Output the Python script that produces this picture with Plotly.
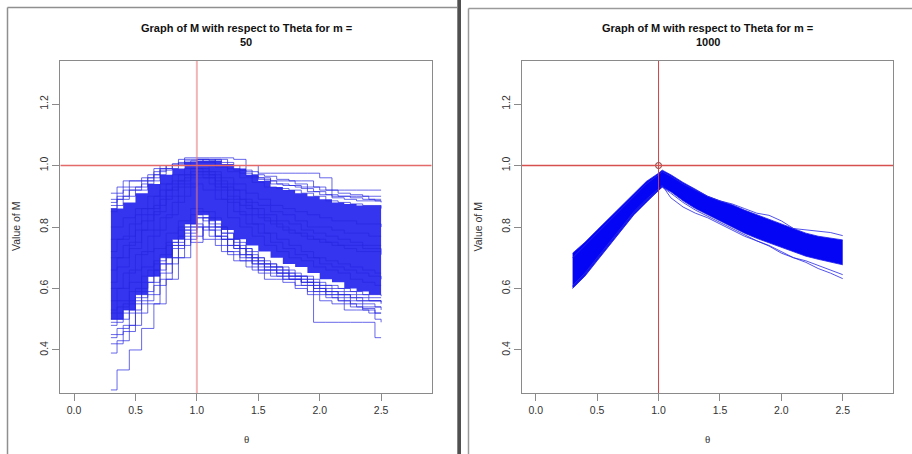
import plotly.graph_objects as go

# ---------------- data ----------------
TITLE_LINE1 = "Graph of M with respect to Theta for m ="
M_LEFT = "50"
M_RIGHT = "1000"
X_TICKS = [0.0, 0.5, 1.0, 1.5, 2.0, 2.5]
X_TICK_TEXT = ["0.0", "0.5", "1.0", "1.5", "2.0", "2.5"]
Y_TICKS = [0.4, 0.6, 0.8, 1.0, 1.2]
Y_TICK_TEXT = ["0.4", "0.6", "0.8", "1.0", "1.2"]
X_LIM = [0.0, 2.8]
Y_LIM = [0.3, 1.3]
REF_THETA = 1.0
REF_M = 1.0

# left panel (m = 50): step paths on two offset theta grids
THETA_A = [0.3, 0.4, 0.5, 0.6, 0.7, 0.8, 0.9, 1.0, 1.1, 1.2, 1.3, 1.4, 1.5,
           1.6, 1.7, 1.8, 1.9, 2.0, 2.1, 2.2, 2.3, 2.4, 2.5]
THETA_B = [0.30, 0.35, 0.45, 0.55, 0.65, 0.75, 0.85, 0.95, 1.05, 1.15, 1.25,
           1.35, 1.45, 1.55, 1.65, 1.75, 1.85, 1.95, 2.05, 2.15, 2.25, 2.35,
           2.45, 2.50]

inner_hi_50 = [0.86, 0.88, 0.91, 0.94, 0.97, 0.99, 1.01, 1.015, 1.015, 1.005, 0.99, 0.97,
               0.95, 0.93, 0.92, 0.91, 0.90, 0.89, 0.88, 0.875, 0.87, 0.87, 0.87]
inner_lo_50 = [0.50, 0.53, 0.58, 0.64, 0.70, 0.76, 0.81, 0.84, 0.82, 0.79, 0.76, 0.74,
               0.72, 0.70, 0.68, 0.67, 0.65, 0.63, 0.62, 0.60, 0.59, 0.58, 0.575]

runs_a_50 = [
    [0.91, 0.95, 0.95, 0.97, 1.00, 1.005, 1.025, 1.025, 1.025, 1.025, 1.02, 1.00, 0.975,
     0.975, 0.975, 0.975, 0.975, 0.96, 0.92, 0.92, 0.92, 0.92, 0.92],
    [0.87, 0.90, 0.92, 0.95, 0.985, 1.00, 1.01, 1.02, 1.015, 1.00, 0.985, 0.965, 0.955,
     0.94, 0.935, 0.93, 0.915, 0.905, 0.895, 0.89, 0.885, 0.885, 0.88],
    [0.89, 0.92, 0.93, 0.96, 0.99, 1.005, 1.015, 1.02, 1.02, 1.01, 1.00, 0.98, 0.96,
     0.95, 0.95, 0.94, 0.93, 0.92, 0.90, 0.90, 0.90, 0.89, 0.89],
    [0.42, 0.46, 0.52, 0.58, 0.63, 0.70, 0.76, 0.80, 0.77, 0.72, 0.69, 0.67, 0.65,
     0.64, 0.62, 0.60, 0.58, 0.56, 0.55, 0.53, 0.53, 0.52, 0.52],
    [0.45, 0.48, 0.55, 0.55, 0.65, 0.73, 0.79, 0.83, 0.80, 0.76, 0.73, 0.69, 0.66,
     0.66, 0.63, 0.61, 0.59, 0.58, 0.57, 0.55, 0.54, 0.54, 0.53],
    [0.50, 0.52, 0.58, 0.64, 0.71, 0.76, 0.80, 0.84, 0.83, 0.78, 0.75, 0.72, 0.68,
     0.67, 0.65, 0.64, 0.62, 0.60, 0.59, 0.58, 0.57, 0.56, 0.56],
    [0.52, 0.55, 0.60, 0.66, 0.70, 0.75, 0.81, 0.85, 0.81, 0.78, 0.74, 0.71, 0.69,
     0.67, 0.66, 0.64, 0.63, 0.61, 0.60, 0.59, 0.58, 0.57, 0.57],
    [0.49, 0.53, 0.57, 0.62, 0.68, 0.74, 0.78, 0.83, 0.79, 0.76, 0.73, 0.70, 0.67,
     0.65, 0.64, 0.63, 0.61, 0.59, 0.58, 0.57, 0.56, 0.56, 0.55],
    [0.80, 0.83, 0.86, 0.90, 0.94, 0.97, 0.99, 1.00, 0.98, 0.96, 0.94, 0.91, 0.89,
     0.87, 0.86, 0.85, 0.84, 0.83, 0.82, 0.82, 0.81, 0.81, 0.80],
    [0.70, 0.74, 0.79, 0.84, 0.89, 0.93, 0.96, 0.98, 0.96, 0.93, 0.89, 0.86, 0.83,
     0.81, 0.79, 0.78, 0.76, 0.75, 0.74, 0.73, 0.72, 0.72, 0.71],
    [0.60, 0.65, 0.71, 0.77, 0.83, 0.88, 0.93, 0.96, 0.94, 0.89, 0.85, 0.81, 0.78,
     0.75, 0.73, 0.71, 0.70, 0.68, 0.67, 0.66, 0.65, 0.64, 0.63],
    [0.76, 0.77, 0.84, 0.86, 0.92, 0.95, 0.97, 0.99, 0.97, 0.94, 0.92, 0.88, 0.87,
     0.85, 0.84, 0.82, 0.80, 0.80, 0.79, 0.78, 0.78, 0.77, 0.77],
]
runs_b_50 = [
    [0.88, 0.93, 0.95, 0.96, 0.99, 1.00, 1.02, 1.02, 1.015, 1.02, 1.00, 0.985, 0.97,
     0.965, 0.955, 0.95, 0.95, 0.93, 0.92, 0.91, 0.905, 0.90, 0.90, 0.90],
    [0.85, 0.89, 0.93, 0.94, 0.97, 0.99, 1.00, 1.01, 1.01, 0.995, 0.98, 0.96, 0.945,
     0.93, 0.925, 0.92, 0.91, 0.90, 0.885, 0.88, 0.875, 0.87, 0.87, 0.86],
    [0.86, 0.90, 0.92, 0.95, 0.98, 1.00, 1.01, 1.015, 1.02, 1.00, 0.99, 0.975, 0.96,
     0.95, 0.94, 0.935, 0.925, 0.915, 0.905, 0.90, 0.895, 0.89, 0.885, 0.885],
    [0.27, 0.335, 0.40, 0.47, 0.55, 0.63, 0.70, 0.77, 0.80, 0.76, 0.72, 0.70, 0.66,
     0.63, 0.63, 0.63, 0.63, 0.49, 0.49, 0.49, 0.49, 0.49, 0.44, 0.44],
    [0.48, 0.50, 0.56, 0.62, 0.68, 0.74, 0.79, 0.75, 0.83, 0.80, 0.76, 0.73, 0.70,
     0.68, 0.66, 0.64, 0.62, 0.60, 0.58, 0.56, 0.54, 0.53, 0.52, 0.52],
    [0.44, 0.47, 0.53, 0.59, 0.66, 0.70, 0.77, 0.81, 0.76, 0.74, 0.71, 0.69, 0.68,
     0.66, 0.65, 0.63, 0.61, 0.59, 0.57, 0.56, 0.55, 0.535, 0.50, 0.49],
    [0.39, 0.43, 0.48, 0.56, 0.61, 0.68, 0.74, 0.80, 0.79, 0.77, 0.74, 0.71, 0.69,
     0.67, 0.65, 0.64, 0.62, 0.61, 0.59, 0.58, 0.56, 0.55, 0.54, 0.54],
    [0.50, 0.54, 0.59, 0.64, 0.69, 0.75, 0.80, 0.84, 0.82, 0.77, 0.74, 0.71, 0.68,
     0.66, 0.64, 0.63, 0.62, 0.60, 0.59, 0.58, 0.57, 0.56, 0.56, 0.555],
    [0.53, 0.56, 0.62, 0.67, 0.73, 0.78, 0.82, 0.86, 0.85, 0.80, 0.76, 0.73, 0.70,
     0.68, 0.67, 0.65, 0.64, 0.62, 0.61, 0.60, 0.59, 0.58, 0.58, 0.575],
    [0.72, 0.76, 0.81, 0.86, 0.90, 0.94, 0.97, 0.99, 0.98, 0.95, 0.92, 0.89, 0.86,
     0.84, 0.82, 0.81, 0.79, 0.78, 0.77, 0.76, 0.75, 0.74, 0.74, 0.74],
    [0.62, 0.67, 0.73, 0.79, 0.85, 0.90, 0.94, 0.97, 0.96, 0.92, 0.88, 0.84, 0.81,
     0.78, 0.76, 0.74, 0.72, 0.70, 0.69, 0.68, 0.67, 0.66, 0.65, 0.65],
    [0.66, 0.70, 0.75, 0.82, 0.87, 0.92, 0.95, 0.98, 0.97, 0.93, 0.90, 0.87, 0.84,
     0.82, 0.80, 0.78, 0.77, 0.76, 0.75, 0.74, 0.74, 0.73, 0.73, 0.72],
    [0.56, 0.60, 0.66, 0.72, 0.79, 0.84, 0.90, 0.94, 0.92, 0.89, 0.83, 0.80, 0.77,
     0.74, 0.72, 0.70, 0.69, 0.67, 0.66, 0.65, 0.63, 0.62, 0.61, 0.61],
]

# right panel (m = 1000)
THETA_R = [0.3, 0.4, 0.5, 0.6, 0.7, 0.8, 0.9, 1.0, 1.03, 1.1, 1.2, 1.3, 1.4, 1.5,
           1.6, 1.7, 1.8, 1.9, 2.0, 2.1, 2.2, 2.3, 2.4, 2.5]
band_hi_1000 = [0.715, 0.75, 0.79, 0.83, 0.87, 0.91, 0.948, 0.975, 0.985, 0.97, 0.945,
                0.923, 0.90, 0.885, 0.872, 0.855, 0.84, 0.824, 0.81, 0.795, 0.78,
                0.77, 0.765, 0.758]
band_lo_1000 = [0.60, 0.64, 0.69, 0.74, 0.79, 0.84, 0.88, 0.92, 0.93, 0.915, 0.885,
                0.86, 0.84, 0.82, 0.80, 0.78, 0.763, 0.748, 0.735, 0.72, 0.705,
                0.695, 0.685, 0.677]
runs_1000 = [
    [0.70, 0.74, 0.78, 0.82, 0.86, 0.90, 0.94, 0.97, 0.98, 0.965, 0.94, 0.92, 0.90,
     0.885, 0.875, 0.86, 0.845, 0.838, 0.82, 0.795, 0.79, 0.787, 0.782, 0.772],
    [0.61, 0.65, 0.70, 0.75, 0.80, 0.85, 0.89, 0.925, 0.935, 0.895, 0.865, 0.845,
     0.83, 0.81, 0.79, 0.77, 0.755, 0.738, 0.715, 0.70, 0.69, 0.675, 0.66, 0.645],
    [0.605, 0.645, 0.695, 0.745, 0.795, 0.845, 0.885, 0.92, 0.93, 0.91, 0.88, 0.855,
     0.835, 0.815, 0.795, 0.775, 0.755, 0.74, 0.72, 0.70, 0.685, 0.665, 0.65, 0.632],
]

# ---------------- figure ----------------
W, H = 912, 454
FONT = "Liberation Sans, Arial, sans-serif"
AXIS_GRAY = "#8a8a8a"
LINE_BLUE = "rgba(40,40,225,0.7)"


def px(x):
    return x / W


def py(y):
    return 1 - y / H


ext_x = 0.04 * (X_LIM[1] - X_LIM[0])
ext_y = 0.04 * (Y_LIM[1] - Y_LIM[0])
xrange = [X_LIM[0] - ext_x, X_LIM[1] + ext_x]
yrange = [Y_LIM[0] - ext_y, Y_LIM[1] + ext_y]

fig = go.Figure()


def band(x, lo, hi, color, xa, ya, shape, edge=None):
    ln = dict(width=0, shape=shape) if edge is None else dict(width=1, color=edge, shape=shape)
    fig.add_trace(go.Scatter(x=x, y=lo, mode="lines", line=ln,
                             xaxis=xa, yaxis=ya, hoverinfo="skip"))
    fig.add_trace(go.Scatter(x=x, y=hi, mode="lines", line=ln,
                             fill="tonexty", fillcolor=color,
                             xaxis=xa, yaxis=ya, hoverinfo="skip"))


# left panel
band(THETA_A, inner_lo_50, inner_hi_50, "rgba(25,25,238,0.88)", "x", "y", "hv")
for r in runs_a_50:
    fig.add_trace(go.Scatter(x=THETA_A, y=r, mode="lines",
                             line=dict(color=LINE_BLUE, width=1, shape="hv"),
                             xaxis="x", yaxis="y", hoverinfo="skip"))
for r in runs_b_50:
    fig.add_trace(go.Scatter(x=THETA_B, y=r, mode="lines",
                             line=dict(color=LINE_BLUE, width=1, shape="hv"),
                             xaxis="x", yaxis="y", hoverinfo="skip"))

# right panel
band(THETA_R, band_lo_1000, band_hi_1000, "rgb(5,5,245)", "x2", "y2", "linear",
     edge="rgba(30,30,235,0.8)")
for r in runs_1000:
    fig.add_trace(go.Scatter(x=THETA_R, y=r, mode="lines",
                             line=dict(color="rgba(40,40,230,0.8)", width=1),
                             xaxis="x2", yaxis="y2", hoverinfo="skip"))
fig.add_trace(go.Scatter(x=[REF_THETA], y=[REF_M], mode="markers",
                         marker=dict(symbol="circle-open", size=6, color="#7a2a2a",
                                     line=dict(width=1)),
                         xaxis="x2", yaxis="y2", hoverinfo="skip"))

# reference lines (abline v = 1, h = 1) and window frames
shapes = [
    dict(type="line", xref="x", yref="y", x0=REF_THETA, x1=REF_THETA,
         y0=yrange[0], y1=yrange[1], line=dict(color="rgba(232,120,120,0.55)", width=2),
         layer="above"),
    dict(type="line", xref="x", yref="y", x0=xrange[0], x1=xrange[1],
         y0=REF_M, y1=REF_M, line=dict(color="rgb(228,105,105)", width=1.3), layer="above"),
    dict(type="line", xref="x2", yref="y2", x0=REF_THETA, x1=REF_THETA,
         y0=yrange[0], y1=yrange[1], line=dict(color="#cc4646", width=1), layer="above"),
    dict(type="line", xref="x2", yref="y2", x0=xrange[0], x1=xrange[1],
         y0=REF_M, y1=REF_M, line=dict(color="rgb(215,80,80)", width=1.3), layer="above"),
    dict(type="line", xref="paper", yref="paper", x0=px(7.5), x1=px(7.5), y0=0, y1=py(7.5),
         line=dict(color="#8f8f8f", width=1.5)),
    dict(type="line", xref="paper", yref="paper", x0=px(7.5), x1=px(457), y0=py(7.5), y1=py(7.5),
         line=dict(color="#8f8f8f", width=1.5)),
    dict(type="rect", xref="paper", yref="paper", x0=px(457.3), x1=px(461), y0=0, y1=1,
         fillcolor="#505050", line=dict(width=0)),
    dict(type="line", xref="paper", yref="paper", x0=px(468.5), x1=px(468.5), y0=0, y1=py(8.5),
         line=dict(color="#9a9a9a", width=1.5)),
    dict(type="line", xref="paper", yref="paper", x0=px(468.5), x1=1, y0=py(8.5), y1=py(8.5),
         line=dict(color="#9a9a9a", width=1.5)),
]

common_x = dict(range=xrange, tickvals=X_TICKS, ticktext=X_TICK_TEXT, showgrid=False,
                zeroline=False, showline=True, mirror=True, linecolor=AXIS_GRAY,
                linewidth=1, ticks="outside", ticklen=7, tickcolor=AXIS_GRAY,
                showspikes=False,
                tickfont=dict(family=FONT, size=10.5, color="#333333"))
common_y = dict(range=yrange, tickvals=Y_TICKS, ticktext=Y_TICK_TEXT, showgrid=False,
                zeroline=False, showline=True, mirror=True, linecolor=AXIS_GRAY,
                linewidth=1, ticks="outside", ticklen=7, tickcolor=AXIS_GRAY, tickangle=-90,
                showspikes=False,
                tickfont=dict(family=FONT, size=10.5, color="#333333"))

yd = [py(393), py(61)]
fig.update_layout(
    width=W, height=H, margin=dict(l=0, r=0, t=0, b=0),
    paper_bgcolor="white", plot_bgcolor="white", showlegend=False, hovermode=False,
    xaxis=dict(domain=[px(60.3), px(431.7)], anchor="y", **common_x),
    yaxis=dict(domain=yd, anchor="x", **common_y),
    xaxis2=dict(domain=[px(522), px(893.3)], anchor="y2", **common_x),
    yaxis2=dict(domain=yd, anchor="x2", **common_y),
    shapes=shapes,
)

annotations = []
for cx, m in [((60.3 + 431.7) / 2, M_LEFT), ((522 + 893.3) / 2, M_RIGHT)]:
    annotations += [
        dict(x=px(cx), y=py(28), xref="paper", yref="paper", text="<b>" + TITLE_LINE1 + "</b>",
             showarrow=False, xanchor="center", yanchor="middle",
             font=dict(family=FONT, size=11, color="#111111")),
        dict(x=px(cx), y=py(41.7), xref="paper", yref="paper", text="<b>" + m + "</b>",
             showarrow=False, xanchor="center", yanchor="middle",
             font=dict(family=FONT, size=11, color="#111111")),
        dict(x=px(cx), y=py(439), xref="paper", yref="paper", text="θ",
             showarrow=False, xanchor="center", yanchor="middle",
             font=dict(family="Liberation Serif, DejaVu Serif, serif", size=11, color="#333333")),
    ]
for lx in [16, 477.5]:
    annotations.append(dict(x=px(lx), y=py(227), xref="paper", yref="paper", text="Value of M",
                            showarrow=False, textangle=-90, xanchor="center", yanchor="middle",
                            font=dict(family=FONT, size=10.5, color="#333333")))
fig.update_layout(annotations=annotations)

fig.write_html("out.html", config={"displayModeBar": False},
               post_script="document.body.style.margin='0';document.body.style.padding='0';")
